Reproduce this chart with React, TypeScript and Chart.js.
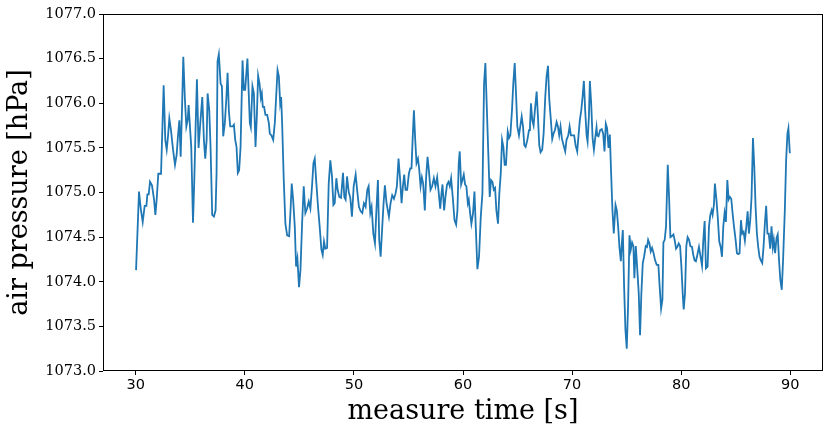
import React, { useEffect, useRef } from "react";
import { Chart, registerables } from "chart.js";

Chart.register(...registerables);

const times: number[] = [
  30.03, 30.30, 30.46, 30.64, 30.82, 30.98, 31.07, 31.19, 31.31, 31.49, 31.68, 31.80, 31.92, 32.07, 32.32, 32.56,
  32.71, 32.84, 32.96, 33.08, 33.23, 33.42, 33.60, 33.75, 33.87, 34.00, 34.12, 34.24, 34.36, 34.51, 34.64, 34.76,
  34.85, 34.97, 35.09, 35.25, 35.37, 35.49, 35.61, 35.76, 35.92, 36.10, 36.25, 36.37, 36.50, 36.59, 36.74, 36.86,
  37.01, 37.17, 37.32, 37.41, 37.50, 37.62, 37.78, 37.90, 38.02, 38.17, 38.30, 38.42, 38.54, 38.66, 38.87, 39.00,
  39.12, 39.24, 39.36, 39.48, 39.61, 39.79, 39.91, 40.03, 40.24, 40.46, 40.55, 40.70, 40.83, 40.98, 41.10, 41.22,
  41.35, 41.47, 41.56, 41.65, 41.77, 41.89, 42.05, 42.20, 42.29, 42.44, 42.60, 42.75, 42.87, 43.00, 43.12, 43.24,
  43.33, 43.42, 43.57, 43.72, 43.88, 44.06, 44.18, 44.30, 44.43, 44.58, 44.70, 44.82, 44.97, 45.10, 45.25, 45.40,
  45.55, 45.71, 45.86, 46.01, 46.16, 46.29, 46.41, 46.56, 46.71, 46.86, 47.02, 47.14, 47.26, 47.38, 47.54, 47.69,
  47.84, 47.99, 48.12, 48.24, 48.39, 48.51, 48.66, 48.82, 49.00, 49.12, 49.24, 49.37, 49.52, 49.67, 49.82, 49.98,
  50.16, 50.31, 50.46, 50.62, 50.77, 50.92, 51.07, 51.23, 51.35, 51.50, 51.62, 51.78, 51.93, 52.05, 52.20, 52.32,
  52.45, 52.60, 52.72, 52.84, 52.99, 53.21, 53.36, 53.51, 53.67, 53.82, 53.94, 54.09, 54.24, 54.37, 54.49, 54.61,
  54.73, 54.88, 55.04, 55.16, 55.28, 55.38, 55.50, 55.62, 55.74, 55.87, 55.98, 56.11, 56.23, 56.35, 56.50, 56.62,
  56.75, 56.87, 57.02, 57.17, 57.33, 57.48, 57.63, 57.75, 57.91, 58.03, 58.12, 58.27, 58.39, 58.54, 58.67, 58.79,
  58.91, 59.06, 59.22, 59.37, 59.49, 59.61, 59.70, 59.83, 59.95, 60.07, 60.19, 60.31, 60.44, 60.53, 60.65, 60.77,
  60.92, 61.05, 61.17, 61.32, 61.47, 61.63, 61.78, 61.93, 62.05, 62.17, 62.33, 62.45, 62.57, 62.70, 62.82, 62.94,
  63.06, 63.21, 63.33, 63.46, 63.58, 63.70, 63.82, 63.94, 64.10, 64.22, 64.34, 64.49, 64.61, 64.74, 64.86, 64.98,
  65.13, 65.25, 65.38, 65.50, 65.62, 65.74, 65.90, 66.05, 66.14, 66.23, 66.35, 66.47, 66.59, 66.75, 66.87, 66.99,
  67.11, 67.26, 67.39, 67.54, 67.66, 67.79, 67.91, 68.03, 68.18, 68.30, 68.43, 68.58, 68.70, 68.82, 68.94, 69.07,
  69.22, 69.37, 69.49, 69.65, 69.77, 69.89, 70.07, 70.19, 70.32, 70.47, 70.59, 70.71, 70.84, 70.96, 71.08, 71.20,
  71.33, 71.42, 71.54, 71.63, 71.75, 71.88, 72.00, 72.12, 72.24, 72.30, 72.42, 72.57, 72.72, 72.85, 72.97, 73.09,
  73.21, 73.34, 73.46, 73.58, 73.70, 73.82, 73.98, 74.10, 74.22, 74.34, 74.47, 74.56, 74.65, 74.77, 74.89, 75.01,
  75.13, 75.26, 75.38, 75.50, 75.62, 75.71, 75.84, 75.96, 76.11, 76.23, 76.35, 76.48, 76.60, 76.75, 76.87, 76.97,
  77.09, 77.21, 77.33, 77.45, 77.61, 77.76, 77.91, 78.03, 78.16, 78.28, 78.37, 78.49, 78.61, 78.77, 78.89, 79.01,
  79.13, 79.29, 79.40, 79.53, 79.65, 79.77, 79.90, 80.02, 80.14, 80.23, 80.35, 80.47, 80.59, 80.72, 80.84, 80.99,
  81.11, 81.23, 81.35, 81.48, 81.63, 81.75, 81.91, 82.03, 82.15, 82.27, 82.42, 82.55, 82.67, 82.79, 82.88, 83.00,
  83.09, 83.23, 83.35, 83.49, 83.62, 83.74, 83.86, 83.98, 84.10, 84.23, 84.35, 84.47, 84.59, 84.71, 84.84, 84.99,
  85.11, 85.23, 85.35, 85.48, 85.60, 85.72, 85.84, 85.96, 86.09, 86.21, 86.33, 86.45, 86.58, 86.70, 86.82, 86.94,
  87.06, 87.18, 87.30, 87.43, 87.55, 87.67, 87.79, 87.91, 88.03, 88.16, 88.28, 88.40, 88.49, 88.61, 88.74, 88.85,
  88.97, 89.09, 89.22, 89.34, 89.50, 89.62, 89.74, 89.83, 89.96,
];

const pressure: number[] = [
  1074.13, 1075.01, 1074.82, 1074.67, 1074.85, 1074.85, 1074.98, 1074.98, 1075.12, 1075.08, 1074.92, 1074.75, 1074.92, 1075.21, 1075.21, 1076.20,
  1075.59, 1075.48, 1075.63, 1075.83, 1075.70, 1075.48, 1075.31, 1075.42, 1075.63, 1075.81, 1075.40, 1075.92, 1076.52, 1076.04, 1075.74, 1075.81,
  1075.98, 1075.74, 1075.51, 1074.66, 1075.14, 1075.74, 1076.27, 1075.50, 1075.78, 1076.07, 1075.59, 1075.38, 1075.59, 1076.11, 1075.92, 1075.51,
  1074.75, 1074.73, 1074.80, 1075.22, 1076.47, 1076.55, 1076.22, 1076.19, 1075.63, 1075.78, 1076.04, 1076.34, 1075.91, 1075.74, 1075.74, 1075.76,
  1075.59, 1075.51, 1075.22, 1075.25, 1075.51, 1076.48, 1076.15, 1076.15, 1076.50, 1075.78, 1075.73, 1076.19, 1076.11, 1075.51, 1075.85, 1076.31,
  1076.22, 1076.06, 1076.11, 1075.96, 1075.96, 1075.87, 1075.87, 1075.78, 1075.66, 1075.64, 1075.59, 1075.78, 1076.07, 1076.37, 1076.30, 1076.00,
  1076.07, 1075.78, 1075.14, 1074.65, 1074.52, 1074.51, 1074.77, 1075.10, 1074.92, 1074.62, 1074.17, 1074.26, 1073.94, 1074.13, 1074.65, 1075.07,
  1074.77, 1074.82, 1074.90, 1074.82, 1075.07, 1075.33, 1075.38, 1075.10, 1074.84, 1074.62, 1074.36, 1074.30, 1074.45, 1074.37, 1074.38, 1075.10,
  1075.36, 1075.18, 1074.86, 1074.88, 1075.16, 1075.03, 1074.95, 1074.94, 1075.22, 1074.95, 1074.92, 1075.18, 1075.01, 1074.94, 1074.73, 1075.07,
  1075.20, 1075.01, 1074.84, 1074.79, 1074.77, 1074.88, 1074.84, 1075.03, 1075.07, 1074.77, 1074.84, 1074.54, 1074.43, 1074.77, 1075.14, 1074.47,
  1074.28, 1074.62, 1074.88, 1075.08, 1074.88, 1074.73, 1074.88, 1074.97, 1074.93, 1074.99, 1075.07, 1075.38, 1075.14, 1074.88, 1075.07, 1075.20,
  1075.03, 1075.03, 1075.21, 1075.27, 1075.27, 1075.59, 1075.92, 1075.59, 1075.33, 1075.38, 1075.27, 1075.07, 1075.17, 1075.10, 1074.80, 1075.17,
  1075.40, 1075.25, 1075.03, 1075.07, 1075.16, 1075.07, 1075.17, 1075.03, 1074.82, 1074.99, 1075.09, 1074.80, 1074.95, 1075.09, 1075.12, 1075.07,
  1075.16, 1074.95, 1074.69, 1074.64, 1074.80, 1075.33, 1075.46, 1075.09, 1075.14, 1075.20, 1075.09, 1075.07, 1074.88, 1074.92, 1074.77, 1074.65,
  1074.77, 1075.01, 1074.62, 1074.14, 1074.28, 1074.73, 1074.99, 1076.22, 1076.45, 1076.00, 1075.40, 1074.95, 1075.14, 1075.12, 1075.03, 1075.05,
  1074.80, 1074.65, 1074.99, 1075.21, 1075.59, 1075.51, 1075.31, 1075.31, 1075.68, 1075.61, 1075.64, 1075.92, 1076.22, 1076.45, 1076.11, 1075.74,
  1075.64, 1075.74, 1075.85, 1075.74, 1075.53, 1075.51, 1075.59, 1075.70, 1075.74, 1076.00, 1075.81, 1075.75, 1075.92, 1076.13, 1075.85, 1075.53,
  1075.45, 1075.48, 1075.66, 1076.07, 1076.30, 1076.42, 1076.04, 1075.85, 1075.60, 1075.66, 1075.70, 1075.79, 1075.74, 1075.64, 1075.74, 1075.60,
  1075.53, 1075.46, 1075.59, 1075.64, 1075.74, 1075.64, 1075.64, 1075.64, 1075.53, 1075.46, 1075.64, 1075.81, 1075.92, 1076.07, 1076.25, 1075.92,
  1075.64, 1075.57, 1075.85, 1076.25, 1076.00, 1075.61, 1075.48, 1075.61, 1075.73, 1075.64, 1075.63, 1075.70, 1075.71, 1075.66, 1075.46, 1075.77,
  1075.72, 1075.50, 1075.65, 1075.21, 1074.80, 1074.54, 1074.86, 1074.80, 1074.62, 1074.39, 1074.23, 1074.43, 1074.58, 1073.94, 1073.46, 1073.25,
  1073.72, 1074.52, 1074.36, 1074.44, 1074.40, 1074.04, 1074.40, 1074.17, 1073.87, 1073.40, 1073.87, 1074.21, 1074.28, 1074.40, 1074.39, 1074.47,
  1074.43, 1074.34, 1074.38, 1074.33, 1074.24, 1074.19, 1074.19, 1073.94, 1073.70, 1073.80, 1074.44, 1074.47, 1074.62, 1075.31, 1074.95, 1074.50,
  1074.51, 1074.53, 1074.47, 1074.37, 1074.39, 1074.43, 1074.40, 1074.17, 1073.87, 1073.69, 1073.87, 1074.40, 1074.50, 1074.47, 1074.40, 1074.39,
  1074.30, 1074.24, 1074.23, 1074.30, 1074.39, 1074.30, 1074.18, 1074.47, 1074.68, 1074.15, 1074.17, 1074.62, 1074.75, 1074.80, 1074.75, 1074.86,
  1075.10, 1074.92, 1074.73, 1074.45, 1074.39, 1074.28, 1074.62, 1074.77, 1074.67, 1075.14, 1074.92, 1074.95, 1074.93, 1074.77, 1074.62, 1074.47,
  1074.32, 1074.31, 1074.32, 1074.69, 1074.54, 1074.56, 1074.46, 1074.60, 1074.79, 1074.54, 1074.69, 1074.95, 1075.61, 1075.29, 1074.84, 1074.54,
  1074.39, 1074.28, 1074.24, 1074.21, 1074.39, 1074.65, 1074.85, 1074.54, 1074.54, 1074.37, 1074.62, 1074.39, 1074.47, 1074.32, 1074.49, 1074.53,
  1074.24, 1074.02, 1073.91, 1074.24, 1074.80, 1075.36, 1075.66, 1075.72, 1075.44,
];

const xTicks: number[] = [30, 40, 50, 60, 70, 80, 90];
const yTicks: number[] = [1073.0, 1073.5, 1074.0, 1074.5, 1075.0, 1075.5, 1076.0, 1076.5, 1077.0];
const xRange: number[] = [27, 93];
const yRange: number[] = [1073, 1077];
const xTitle = "measure time [s]";
const yTitle = "air pressure [hPa]";

const frame = {
  id: "frame",
  afterDraw(chart: any) {
    const { ctx, chartArea } = chart;
    ctx.save();
    ctx.strokeStyle = "#000";
    ctx.lineWidth = 1;
    ctx.strokeRect(
      Math.round(chartArea.left) + 0.5,
      Math.round(chartArea.top) + 0.5,
      Math.round(chartArea.right - chartArea.left) - 1,
      Math.round(chartArea.bottom - chartArea.top) - 1
    );
    ctx.restore();
  },
};

export default function App() {
  const ref = useRef<HTMLCanvasElement | null>(null);
  useEffect(() => {
    const canvas = ref.current;
    if (!canvas) return;
    const pts = times.map((t, i) => ({ x: t, y: pressure[i] }));
    const chart = new Chart(canvas, {
      type: "line",
      data: {
        datasets: [
          {
            data: pts,
            borderColor: "#1f77b4",
            borderWidth: 1.8,
            pointRadius: 0,
            tension: 0,
            fill: false,
          },
        ],
      },
      options: {
        animation: false,
        responsive: false,
        devicePixelRatio: 1,
        parsing: false as any,
        layout: { padding: { top: 14, right: 7, left: 0, bottom: 0 } },
        plugins: { legend: { display: false }, tooltip: { enabled: false } },
        scales: {
          x: {
            type: "linear",
            min: xRange[0],
            max: xRange[1],
            afterBuildTicks: (s: any) => {
              s.ticks = xTicks.map((v) => ({ value: v }));
            },
            afterFit: (s: any) => {
              s.height = 61;
            },
            border: { display: false },
            grid: { drawOnChartArea: false, drawTicks: true, tickLength: 4, color: "#000", lineWidth: 1 },
            ticks: {
              color: "#000",
              padding: 2,
              maxRotation: 0,
              font: { family: "DejaVu Sans", size: 14.5 },
              callback: (v: any) => String(v),
            },
            title: {
              display: true,
              text: xTitle,
              color: "#000",
              font: { family: "DejaVu Serif", size: 27, lineHeight: 1.2 },
              padding: { top: 0, bottom: 4 },
            },
          },
          y: {
            type: "linear",
            min: yRange[0],
            max: yRange[1],
            afterBuildTicks: (s: any) => {
              s.ticks = yTicks.map((v) => ({ value: v }));
            },
            afterFit: (s: any) => {
              s.width = 103;
            },
            border: { display: false },
            grid: { drawOnChartArea: false, drawTicks: true, tickLength: 4, color: "#000", lineWidth: 1 },
            ticks: {
              color: "#000",
              padding: 3,
              font: { family: "DejaVu Serif", size: 14.5 },
              callback: (v: any) => Number(v).toFixed(1),
            },
            title: {
              display: true,
              text: yTitle,
              color: "#000",
              font: { family: "DejaVu Serif", size: 27, lineHeight: 1.2 },
              padding: { top: 4, bottom: 0 },
            },
          },
        },
      },
      plugins: [frame],
    });
    return () => chart.destroy();
  }, []);
  return (
    <div style={{ position: "fixed", left: 0, top: 0, width: 830, height: 432, background: "#fff" }}>
      <canvas ref={ref} width={830} height={432} style={{ width: 830, height: 432, display: "block" }} />
    </div>
  );
}
